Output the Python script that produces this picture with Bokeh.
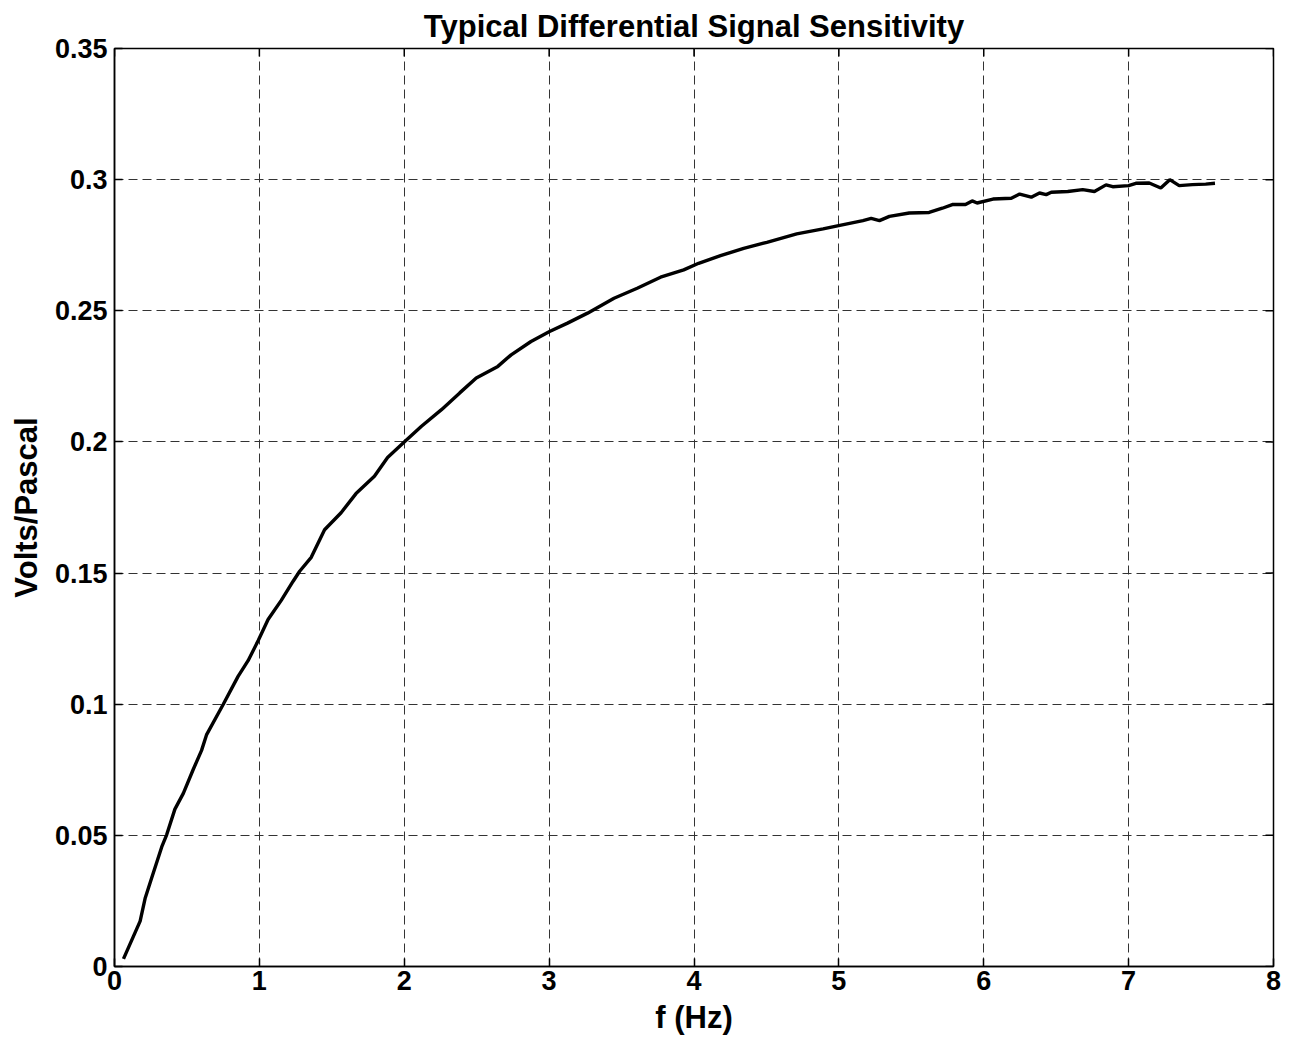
import math
from bokeh.plotting import figure
from bokeh.models import FixedTicker, Range1d
from bokeh.embed import file_html
from bokeh.resources import INLINE

freq_hz = [0.062, 0.177, 0.211, 0.257, 0.326, 0.360, 0.417, 0.475, 0.544, 0.601,
           0.635, 0.75, 0.853, 0.922, 0.993, 1.06, 1.151, 1.232, 1.278, 1.358,
           1.45, 1.564, 1.667, 1.794, 1.885, 2.0, 2.119, 2.257, 2.383, 2.497,
           2.646, 2.738, 2.875, 3.003, 3.127, 3.265, 3.448, 3.608, 3.769, 3.929,
           4.032, 4.183, 4.343, 4.503, 4.709, 4.891, 4.99, 5.166, 5.223, 5.28,
           5.349, 5.486, 5.623, 5.714, 5.783, 5.874, 5.92, 5.954, 6.064, 6.19,
           6.248, 6.328, 6.385, 6.431, 6.466, 6.58, 6.683, 6.764, 6.844, 6.89,
           7.0, 7.05, 7.142, 7.222, 7.284, 7.349, 7.44, 7.532, 7.596]
volts_per_pascal = [0.0029, 0.0173, 0.0259, 0.0338, 0.0456, 0.0502, 0.060, 0.066, 0.0752, 0.0824,
                    0.0883, 0.0999, 0.1106, 0.1166, 0.1244, 0.1323, 0.1396, 0.1468, 0.1507, 0.156,
                    0.1665, 0.173, 0.1803, 0.1869, 0.1941, 0.2, 0.206, 0.2123, 0.2187, 0.2244,
                    0.2288, 0.2332, 0.2383, 0.2421, 0.2453, 0.2491, 0.2548, 0.2586, 0.2628, 0.2656,
                    0.2681, 0.271, 0.2738, 0.2761, 0.2793, 0.2812, 0.2824, 0.2844, 0.2852, 0.2844,
                    0.286, 0.2873, 0.2875, 0.2891, 0.2905, 0.2905, 0.2919, 0.2911, 0.2926, 0.2929,
                    0.2945, 0.2933, 0.2949, 0.2943, 0.2952, 0.2955, 0.2962, 0.2955, 0.298, 0.2973,
                    0.2977, 0.2986, 0.2987, 0.2968, 0.3, 0.2977, 0.2981, 0.2983, 0.2986]

x_ticks = [0, 1, 2, 3, 4, 5, 6, 7, 8]
x_tick_labels = ["0", "1", "2", "3", "4", "5", "6", "7", "8"]
y_ticks = [0, 0.05, 0.1, 0.15, 0.2, 0.25, 0.3, 0.35]
y_tick_labels = ["0", "0.05", "0.1", "0.15", "0.2", "0.25", "0.3", "0.35"]

X_MIN, X_MAX = 0, 8
Y_MIN, Y_MAX = 0, 0.35

FONT = "Liberation Sans"
TICK_SIZE = "27px"
LABEL_SIZE = "31px"

p = figure(output_backend="svg", toolbar_location=None,
           frame_width=1159, frame_height=918,
           min_border_left=114, min_border_right=10,
           min_border_top=48, min_border_bottom=68,
           x_range=Range1d(X_MIN, X_MAX), y_range=Range1d(Y_MIN, Y_MAX),
           title="Typical Differential Signal Sensitivity")

p.title.text_font = FONT
p.title.text_font_size = LABEL_SIZE
p.title.text_font_style = "bold"
p.title.align = "center"
p.title.vertical_align = "middle"
p.title.text_color = "black"
p.title.standoff = 8

p.background_fill_color = "white"
p.border_fill_color = "white"
p.outline_line_color = "black"
p.outline_line_width = 1.5

for ax, ticks, labels in ((p.xaxis[0], x_ticks, x_tick_labels), (p.yaxis[0], y_ticks, y_tick_labels)):
    ax.ticker = FixedTicker(ticks=ticks)
    ax.major_label_overrides = {t: l for t, l in zip(ticks, labels)}
    ax.major_label_text_font = FONT
    ax.major_label_text_font_size = TICK_SIZE
    ax.major_label_text_font_style = "bold"
    ax.major_label_text_color = "black"
    ax.axis_label_text_font = FONT
    ax.axis_label_text_font_size = LABEL_SIZE
    ax.axis_label_text_font_style = "bold"
    ax.axis_label_text_color = "black"
    ax.major_tick_in = 8
    ax.major_tick_out = 0
    ax.minor_tick_line_color = None
    ax.axis_line_color = "black"
    ax.axis_line_width = 1.5
    ax.major_tick_line_color = "black"
    ax.major_tick_line_width = 1.5

p.xaxis.axis_label = "f (Hz)"
p.yaxis.axis_label = "Volts/Pascal"
p.xaxis.major_label_standoff = 4
p.yaxis.major_label_standoff = 7
p.xaxis.axis_label_standoff = 7
p.yaxis.axis_label_standoff = 8

# inward ticks on the top and right sides of the box
p.ray(x=x_ticks, y=[Y_MAX] * len(x_ticks), length=8, length_units="screen",
      angle=-math.pi / 2, line_color="black", line_width=1.5)
p.ray(x=[X_MAX] * len(y_ticks), y=y_ticks, length=8, length_units="screen",
      angle=math.pi, line_color="black", line_width=1.5)

p.xgrid.ticker = FixedTicker(ticks=x_ticks)
p.ygrid.ticker = FixedTicker(ticks=y_ticks)
p.grid.grid_line_color = "#333333"
p.grid.grid_line_width = 1
p.grid.grid_line_dash = "9 5"

p.line(freq_hz, volts_per_pascal, line_color="black", line_width=3.4)

open("out.html", "w").write(file_html(p, INLINE))
